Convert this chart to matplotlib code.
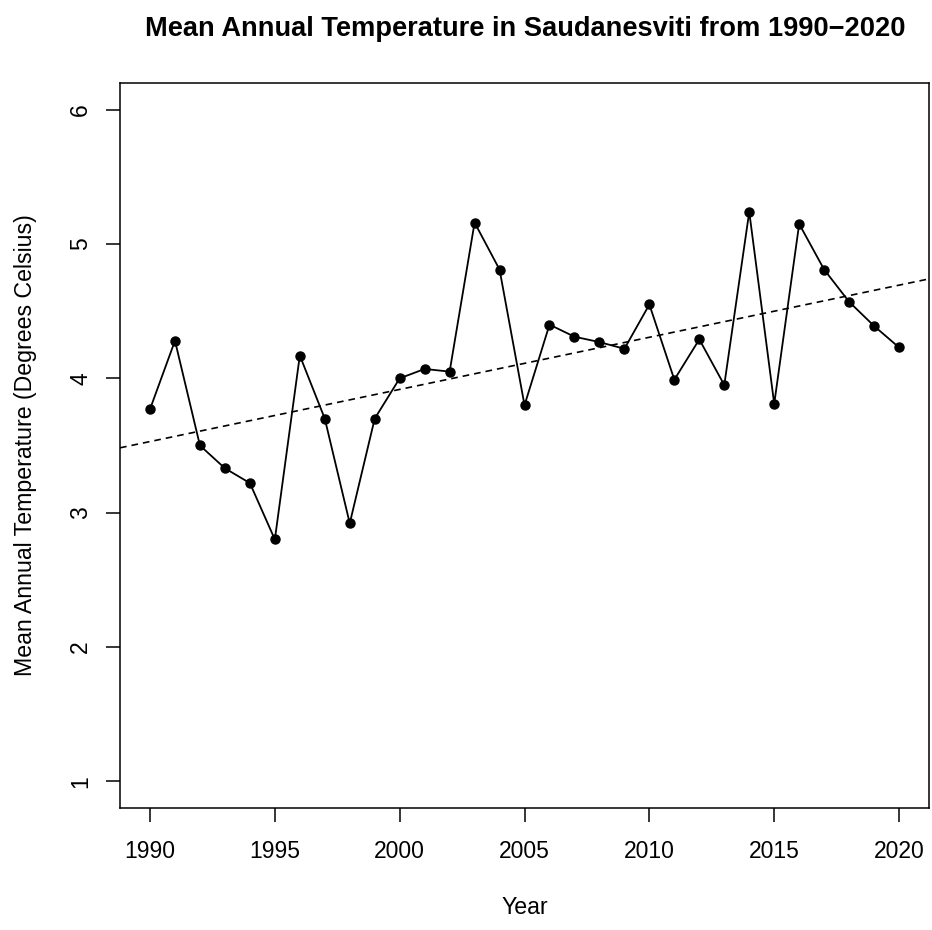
import numpy as np
import matplotlib.pyplot as plt

# Mean annual temperature
years = list(range(1990, 2021))
temps = [3.77, 4.28, 3.50, 3.33, 3.22, 2.80, 4.17, 3.70, 2.92, 3.70,
         4.00, 4.07, 4.05, 5.16, 4.81, 3.80, 4.40, 4.31, 4.27, 4.22,
         4.55, 3.99, 4.29, 3.95, 5.24, 3.81, 5.15, 4.81, 4.57, 4.39,
         4.23]
x_ticks = [1990, 1995, 2000, 2005, 2010, 2015, 2020]
y_ticks = [1, 2, 3, 4, 5, 6]

plt.rcParams['font.family'] = ['Liberation Sans', 'DejaVu Sans']

fig = plt.figure(figsize=(9.32, 9.30), dpi=100)
ax = fig.add_axes([0.1288, 0.1312, 0.868, 0.7796])

# data line with filled points
ax.plot(years, temps, color='black', linewidth=1.3, marker='o',
        markersize=6.5)

# linear trend (abline of lm)
slope, intercept = np.polyfit(years, temps, 1)
ax.axline((years[0], intercept + slope * years[0]), slope=slope,
          color='black', linestyle=(0, (4, 3)), linewidth=1.2)

# R-style axis limits (4% padding)
ax.set_xlim(1988.8, 2021.2)
ax.set_ylim(0.8, 6.2)
ax.set_xticks(x_ticks)
ax.set_yticks(y_ticks)
ax.set_yticklabels([str(v) for v in y_ticks], rotation=90, va='center')

ax.tick_params(direction='out', length=10, width=1.1, labelsize=16.5)
ax.tick_params(axis='x', pad=13)
ax.tick_params(axis='y', pad=10)
for s in ax.spines.values():
    s.set_linewidth(1.1)

ax.set_xlabel('Year', fontsize=16.7, labelpad=24)
ax.set_ylabel('Mean Annual Temperature (Degrees Celsius)', fontsize=16.7,
              labelpad=23)
fig.text(0.5635, 0.969, 'Mean Annual Temperature in Saudanesviti from 1990\u22122020',
         fontsize=19.6, fontweight='bold', ha='center', va='center')

fig.savefig('out.png', dpi=100)
